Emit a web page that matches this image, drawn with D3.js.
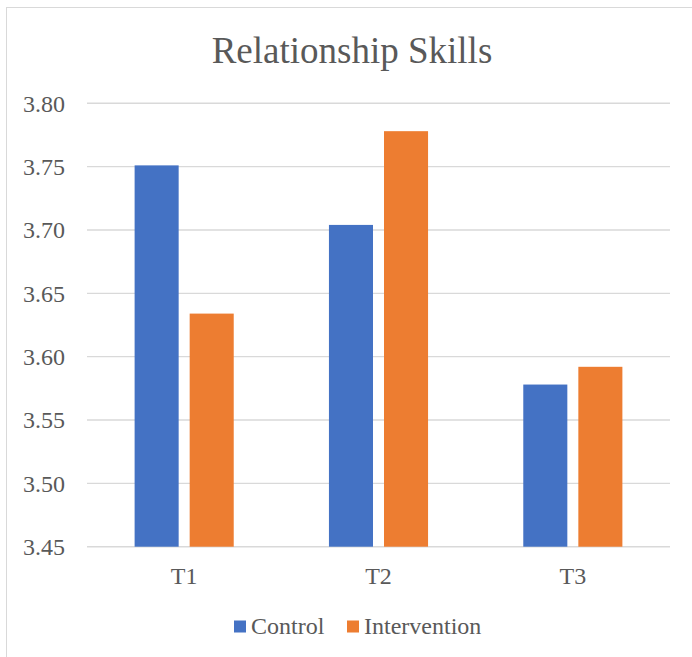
<!DOCTYPE html>
<html>
<head>
<meta charset="utf-8">
<script src="https://cdn.jsdelivr.net/npm/d3@7"></script>
</head>
<body style="margin:0;padding:0;background:#fff">
<script>
// Relationship Skills: mean scores by time point and group
const categories = ["T1", "T2", "T3"];
const seriesNames = ["Control", "Intervention"];
const controlValues = [3.751, 3.704, 3.578];
const interventionValues = [3.634, 3.778, 3.592];
const yTicks = [3.45, 3.50, 3.55, 3.60, 3.65, 3.70, 3.75, 3.80];
const colors = ["#4472C4", "#ED7D31"];

const W = 692, H = 657;
const serif = "Liberation Serif";
const textColor = "#595959";

const svg = d3.select("body").append("svg")
  .attr("width", W).attr("height", H)
  .style("display", "block")
  .attr("font-family", serif);

function serifText(sel, size) {
  return sel.attr("font-family", serif)
    .style("font-family", `"${serif}"`)
    .style("font-size", size + "px")
    .attr("font-size", size);
}

// chart frame
svg.append("rect")
  .attr("x", 6.5).attr("y", 7.5)
  .attr("width", 700).attr("height", 700)
  .attr("fill", "#fff").attr("stroke", "#d9d9d9").attr("stroke-width", 1);

const plot = { left: 87, right: 670, top: 103.3, bottom: 546.7 };

const y = d3.scaleLinear().domain([3.45, 3.80]).range([plot.bottom, plot.top]);

const x = d3.scaleBand().domain(categories)
  .range([plot.left, plot.right])
  .paddingInner(0.49).paddingOuter(0.245);

const xs = d3.scaleBand().domain(seriesNames)
  .range([0, x.bandwidth()])
  .paddingInner(0.2).paddingOuter(0);

// title
serifText(svg.append("text"), 37)
  .attr("x", W / 2 + 6).attr("y", 63)
  .attr("text-anchor", "middle")
  .attr("fill", textColor)
  .text("Relationship Skills");

// gridlines
svg.append("g").selectAll("line").data(yTicks).join("line")
  .attr("x1", plot.left).attr("x2", plot.right)
  .attr("y1", d => y(d)).attr("y2", d => y(d))
  .attr("stroke", "#d9d9d9").attr("stroke-width", 1.4);

// y axis labels
const yAxis = d3.axisLeft(y).tickValues(yTicks).tickFormat(d3.format(".2f")).tickSize(0).tickPadding(0);
const gy = svg.append("g").attr("transform", `translate(65,0)`).call(yAxis);
gy.attr("font-family", serif).attr("font-size", 24);
gy.select(".domain").remove();
serifText(gy.selectAll("text"), 24)
  .attr("fill", textColor).attr("dy", "0.33em");

// bars
const rows = categories.map((c, i) => ({ cat: c, vals: [controlValues[i], interventionValues[i]] }));
const groups = svg.append("g").selectAll("g").data(rows).join("g")
  .attr("transform", d => `translate(${x(d.cat)},0)`);
groups.selectAll("rect")
  .data(d => d.vals.map((v, j) => ({ name: seriesNames[j], v, j })))
  .join("rect")
  .attr("x", d => xs(d.name))
  .attr("width", xs.bandwidth())
  .attr("y", d => y(d.v))
  .attr("height", d => y(3.45) - y(d.v))
  .attr("fill", d => colors[d.j]);

// x axis labels
const xAxis = d3.axisBottom(x).tickSize(0).tickPadding(0);
const gx = svg.append("g").attr("transform", `translate(0,${plot.bottom})`).call(xAxis);
gx.attr("font-family", serif).attr("font-size", 24);
gx.select(".domain").remove();
serifText(gx.selectAll("text"), 24)
  .attr("fill", textColor).attr("dy", null).attr("y", 37);

// legend
const legendItems = [
  { name: "Control", color: colors[0], x: 234 },
  { name: "Intervention", color: colors[1], x: 347 }
];
const lg = svg.append("g").selectAll("g").data(legendItems).join("g")
  .attr("transform", d => `translate(${d.x},0)`);
lg.append("rect").attr("x", 0).attr("y", 620.5).attr("width", 12).attr("height", 12)
  .attr("fill", d => d.color);
serifText(lg.append("text"), 24)
  .attr("x", 17).attr("y", 634)
  .attr("fill", textColor)
  .text(d => d.name);
</script>
</body>
</html>
